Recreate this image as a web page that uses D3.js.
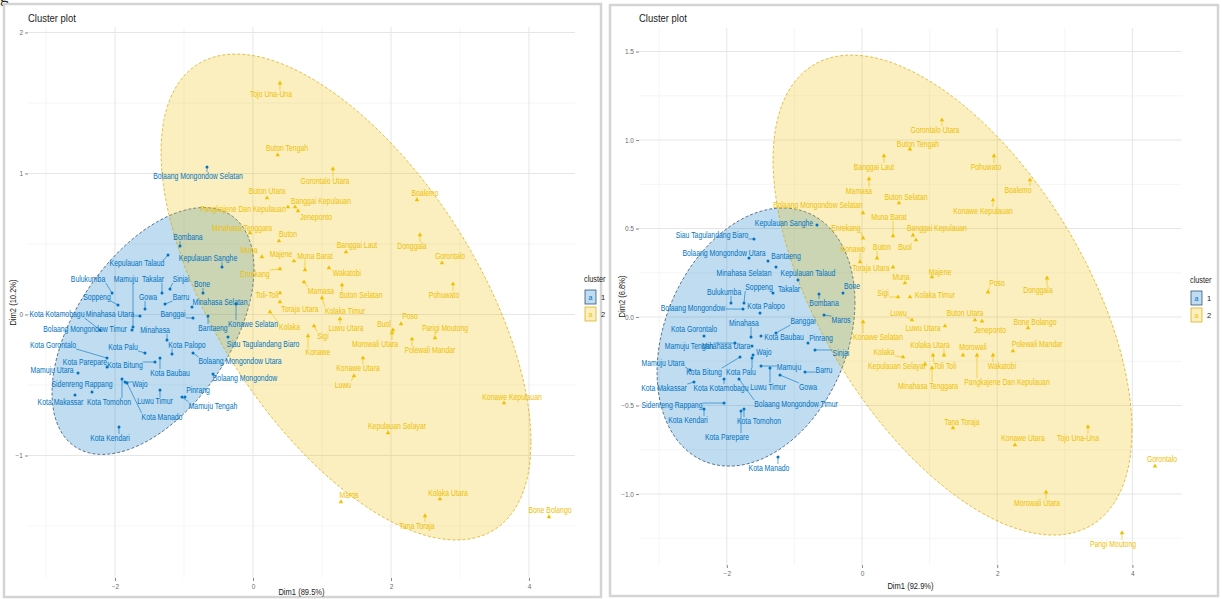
<!DOCTYPE html>
<html>
<head>
<meta charset="utf-8">
<script src="https://cdn.jsdelivr.net/npm/d3@7"></script>
<style>
  body { margin: 0; background: #ffffff; }
  svg { display: block; font-family: "Liberation Sans", Arial, sans-serif; }
</style>
</head>
<body>
<svg id="chart" width="1222" height="599"></svg>
<script>
// ---------------- Data: k-means result on two PCA maps ----------------
// [region, Dim1, Dim2]
const leftCluster1 = [
  ["Bolaang Mongondow Selatan", -0.667, 1.046], ["Bombana", -1.058, 0.486], ["Kepulauan Sanghe", -0.449, 0.337],
  ["Kepulauan Talaud", -1.232, 0.422], ["Bulukumba", -2.043, 0.152], ["Mamuju", -1.739, -0.089],
  ["Takalar", -1.319, 0.152], ["Sinjai", -1.203, 0.181], ["Soppeng", -1.957, 0.067], ["Gowa", -1.565, 0.039],
  ["Barru", -1.275, 0.074], ["Bone", -0.725, 0.152], ["Minahasa Selatan", -0.884, 0.053],
  ["Kota Kotamobagu", -2.217, -0.110], ["Minahasa Utara", -1.638, -0.011], ["Banggai", -0.870, -0.025],
  ["Bolaang Mongondow Timur", -1.754, -0.110], ["Minahasa", -1.246, -0.181], ["Bantaeng", -0.652, -0.011],
  ["Konawe Selatan", -0.246, 0.074], ["Siau Tagulandang Biaro", -0.362, -0.160], ["Kota Gorontalo", -2.116, -0.309],
  ["Kota Palu", -1.565, -0.273], ["Kota Palopo", -1.174, -0.280], ["Bolaang Mongondow Utara", -0.870, -0.273],
  ["Kota Parepare", -2.116, -0.372], ["Mamuju Utara", -2.536, -0.415], ["Kota Bitung", -1.420, -0.337],
  ["Kota Baubau", -1.348, -0.309], ["Bolaang Mongondow", -0.580, -0.422], ["Sidenreng Rappang", -2.333, -0.550],
  ["Wajo", -1.855, -0.479], ["Pinrang", -0.986, -0.585], ["Kota Makassar", -2.580, -0.571],
  ["Kota Tomohon", -1.899, -0.457], ["Luwu Timur", -1.348, -0.535], ["Mamuju Tengah", -1.029, -0.585],
  ["Kota Manado", -1.826, -0.486], ["Kota Kendari", -1.942, -0.798]
];
const leftCluster2 = [
  ["Tojo Una-Una", 0.391, 1.640], ["Buton Tengah", 0.358, 1.131], ["Gorontalo Utara", 1.159, 1.032],
  ["Buton Utara", 0.203, 0.826], ["Banggai Kepulauan", 0.609, 0.762], ["Jeneponto", 0.652, 0.734],
  ["Pangkajene Dan Kepulauan", 0.507, 0.762], ["Boalemo", 2.377, 0.812], ["Minahasa Tenggara", -0.043, 0.578],
  ["Buton", 0.377, 0.521], ["Donggala", 2.420, 0.564], ["Banggai Laut", 1.348, 0.443], ["Gorontalo", 2.739, 0.365],
  ["Muna", 0.130, 0.408], ["Majene", 0.594, 0.379], ["Muna Barat", 0.754, 0.316], ["Enrekang", 0.391, 0.323],
  ["Wakatobi", 1.101, 0.330], ["Mamasa", 0.739, 0.230], ["Kolaka Timur", 1.000, 0.117],
  ["Buton Selatan", 1.290, 0.209], ["Toli-Toli", 0.391, 0.152], ["Toraja Utara", 0.391, 0.089],
  ["Pohuwato", 2.899, 0.216], ["Kolaka", 0.246, 0.018], ["Luwu Utara", 1.261, -0.032], ["Poso", 2.145, -0.067],
  ["Buol", 2.029, -0.110], ["Parigi Moutong", 2.638, -0.167], ["Sigi", 0.884, -0.082], ["Konawe", 0.797, -0.152],
  ["Morowali Utara", 2.014, -0.131], ["Polewali Mandar", 2.304, -0.174], ["Konawe Utara", 1.594, -0.309],
  ["Luwu", 1.464, -0.436], ["Kepulauan Selayar", 1.957, -0.840], ["Konawe Kepulauan", 3.638, -0.628],
  ["Maros", 1.275, -1.330], ["Kolaka Utara", 2.710, -1.309], ["Tana Toraja", 2.493, -1.429],
  ["Bone Bolango", 4.290, -1.436]
];
const rightCluster1 = [
  ["Kepulauan Sanghe", -0.666, 0.520], ["Siau Tagulandang Biaro", -1.598, 0.441],
  ["Bolaang Mongondow Utara", -1.672, 0.333], ["Bantaeng", -1.391, 0.316], ["Minahasa Selatan", -1.272, 0.282],
  ["Kepulauan Talaud", -0.947, 0.209], ["Bulukumba", -1.938, 0.079], ["Soppeng", -1.746, 0.079],
  ["Takalar", -1.317, 0.136], ["Bone", -0.281, 0.136], ["Bombana", -0.636, 0.130],
  ["Bolaang Mongondow", -1.760, 0.045], ["Kota Palopo", -1.509, 0.023], ["Maros", -0.562, 0.011],
  ["Banggai", -1.272, -0.090], ["Minahasa", -1.642, -0.113], ["Kota Gorontalo", -2.337, -0.107],
  ["Kota Baubau", -1.494, -0.107], ["Pinrang", -0.799, -0.147], ["Mamuju Tengah", -1.879, -0.147],
  ["Minahasa Utara", -1.627, -0.164], ["Wajo", -1.612, -0.215], ["Sinjai", -0.695, -0.186],
  ["Mamuju Utara", -2.544, -0.299], ["Kota Bitung", -1.805, -0.226], ["Kota Palu", -1.627, -0.232],
  ["Mamuju", -1.494, -0.277], ["Barru", -0.843, -0.311], ["Kota Makassar", -2.485, -0.367],
  ["Kota Kotamobagu", -2.041, -0.350], ["Luwu Timur", -1.361, -0.288], ["Gowa", -1.213, -0.328],
  ["Bolaang Mongondow Timur", -1.820, -0.350], ["Sidenreng Rappang", -2.041, -0.486],
  ["Kota Kendari", -2.337, -0.520], ["Kota Tomohon", -1.746, -0.520], ["Kota Parepare", -1.790, -0.531],
  ["Kota Manado", -1.243, -0.791]
];
const rightCluster2 = [
  ["Gorontalo Utara", 1.183, 1.113], ["Buton Tengah", 0.710, 0.949], ["Banggai Laut", 0.325, 0.910],
  ["Pohuwato", 1.953, 0.910], ["Mamasa", 0.104, 0.780], ["Buton Selatan", 0.547, 0.644], ["Boalemo", 2.485, 0.774],
  ["Konawe Kepulauan", 1.938, 0.661], ["Bolaang Mongondow Selatan", 0.015, 0.588], ["Muna Barat", 0.459, 0.458],
  ["Banggai Kepulauan", 0.754, 0.463], ["Enrekang", 0.015, 0.446], ["Buol", 0.799, 0.435], ["Buton", 0.222, 0.333],
  ["Konawe", -0.030, 0.311], ["Toraja Utara", 0.459, 0.282], ["Muna", 0.636, 0.192], ["Majene", 1.036, 0.226],
  ["Poso", 1.864, 0.141], ["Donggala", 2.737, 0.220], ["Kolaka Timur", 0.710, 0.113], ["Sigi", 0.533, 0.113],
  ["Luwu", 0.740, -0.017], ["Buton Utara", 1.672, -0.017], ["Luwu Utara", 1.228, -0.051],
  ["Jeneponto", 1.775, -0.023], ["Bone Bolango", 2.456, -0.062], ["Polewali Mandar", 2.234, -0.192],
  ["Kolaka Utara", 1.213, -0.215], ["Morowali", 1.494, -0.215], ["Wakatobi", 1.938, -0.215],
  ["Pangkajene Dan Kepulauan", 1.701, -0.215], ["Kepulauan Selayar", 0.932, -0.266], ["Toli Toli", 1.050, -0.215],
  ["Minahasa Tenggara", 1.036, -0.288], ["Kolaka", 0.607, -0.226], ["Konawe Selatan", 0.015, -0.028],
  ["Tana Toraja", 1.346, -0.627], ["Konawe Utara", 2.263, -0.723], ["Tojo Una-Una", 3.343, -0.621],
  ["Gorontalo", 4.334, -0.842], ["Morowali Utara", 2.722, -0.989], ["Parigi Moutong", 3.846, -1.220]
];

// Repelled label anchors (Dim1, Dim2) for each region
const leftLabelAt = {
  "Bolaang Mongondow Selatan": [-0.797, 0.982], "Bombana": [-0.942, 0.550], "Kepulauan Sanghe": [-0.652, 0.401],
  "Kepulauan Talaud": [-1.681, 0.365], "Bulukumba": [-2.391, 0.252], "Mamuju": [-1.841, 0.252],
  "Takalar": [-1.449, 0.252], "Sinjai": [-1.043, 0.252], "Soppeng": [-2.261, 0.124], "Gowa": [-1.522, 0.124],
  "Barru": [-1.043, 0.124], "Bone": [-0.739, 0.216], "Minahasa Selatan": [-0.478, 0.089],
  "Kota Kotamobagu": [-2.841, 0.004], "Minahasa Utara": [-2.072, 0.004], "Banggai": [-1.159, 0.004],
  "Bolaang Mongondow Timur": [-2.435, -0.103], "Minahasa": [-1.420, -0.110], "Bantaeng": [-0.580, -0.096],
  "Konawe Selatan": [0.000, -0.067], "Siau Tagulandang Biaro": [0.145, -0.209], "Kota Gorontalo": [-2.899, -0.216],
  "Kota Palu": [-1.884, -0.230], "Kota Palopo": [-0.957, -0.216], "Bolaang Mongondow Utara": [-0.188, -0.330],
  "Kota Parepare": [-2.435, -0.337], "Mamuju Utara": [-2.913, -0.394], "Kota Bitung": [-1.855, -0.358],
  "Kota Baubau": [-1.203, -0.415], "Bolaang Mongondow": [-0.116, -0.450], "Sidenreng Rappang": [-2.478, -0.493],
  "Wajo": [-1.638, -0.493], "Pinrang": [-0.797, -0.535], "Kota Makassar": [-2.790, -0.621],
  "Kota Tomohon": [-2.087, -0.621], "Luwu Timur": [-1.420, -0.613], "Mamuju Tengah": [-0.580, -0.649],
  "Kota Manado": [-1.319, -0.727], "Kota Kendari": [-2.072, -0.876],
  "Tojo Una-Una": [0.261, 1.564], "Buton Tengah": [0.493, 1.181], "Gorontalo Utara": [1.043, 0.947],
  "Buton Utara": [0.203, 0.876], "Banggai Kepulauan": [0.986, 0.805], "Jeneponto": [0.913, 0.691],
  "Pangkajene Dan Kepulauan": [-0.145, 0.748], "Boalemo": [2.493, 0.862], "Minahasa Tenggara": [-0.159, 0.613],
  "Buton": [0.507, 0.571], "Donggala": [2.304, 0.486], "Banggai Laut": [1.507, 0.493], "Gorontalo": [2.855, 0.415],
  "Muna": [-0.058, 0.457], "Majene": [0.406, 0.429], "Muna Barat": [0.899, 0.415], "Enrekang": [0.029, 0.287],
  "Wakatobi": [1.362, 0.294], "Mamasa": [0.986, 0.167], "Kolaka Timur": [1.333, 0.025],
  "Buton Selatan": [1.565, 0.138], "Toli-Toli": [0.203, 0.138], "Toraja Utara": [0.681, 0.039],
  "Pohuwato": [2.768, 0.138], "Kolaka": [0.530, -0.089], "Luwu Utara": [1.348, -0.096], "Poso": [2.275, -0.011],
  "Buol": [1.899, -0.067], "Parigi Moutong": [2.783, -0.096], "Sigi": [1.014, -0.152], "Konawe": [0.942, -0.266],
  "Morowali Utara": [1.768, -0.209], "Polewali Mandar": [2.565, -0.252], "Konawe Utara": [1.522, -0.379],
  "Luwu": [1.304, -0.500], "Kepulauan Selayar": [2.087, -0.791], "Konawe Kepulauan": [3.754, -0.585],
  "Maros": [1.391, -1.280], "Kolaka Utara": [2.826, -1.266], "Tana Toraja": [2.377, -1.500],
  "Bone Bolango": [4.304, -1.387]
};
const rightLabelAt = {
  "Kepulauan Sanghe": [-1.154, 0.531], "Siau Tagulandang Biaro": [-2.219, 0.463],
  "Bolaang Mongondow Utara": [-2.041, 0.362], "Bantaeng": [-1.124, 0.345], "Minahasa Selatan": [-1.746, 0.249],
  "Kepulauan Talaud": [-0.799, 0.249], "Bulukumba": [-2.041, 0.141], "Soppeng": [-1.524, 0.169],
  "Takalar": [-1.080, 0.158], "Bone": [-0.148, 0.175], "Bombana": [-0.562, 0.079],
  "Bolaang Mongondow": [-2.500, 0.051], "Kota Palopo": [-1.420, 0.062], "Maros": [-0.311, -0.017],
  "Banggai": [-0.873, -0.023], "Minahasa": [-1.746, -0.034], "Kota Gorontalo": [-2.485, -0.068],
  "Kota Baubau": [-1.154, -0.113], "Pinrang": [-0.607, -0.119], "Mamuju Tengah": [-2.559, -0.164],
  "Minahasa Utara": [-2.012, -0.164], "Wajo": [-1.450, -0.198], "Sinjai": [-0.311, -0.203],
  "Mamuju Utara": [-2.944, -0.260], "Kota Bitung": [-2.337, -0.311], "Kota Palu": [-1.790, -0.311],
  "Mamuju": [-1.080, -0.282], "Barru": [-0.562, -0.299], "Kota Makassar": [-2.929, -0.401],
  "Kota Kotamobagu": [-2.086, -0.401], "Luwu Timur": [-1.391, -0.395], "Gowa": [-0.799, -0.395],
  "Bolaang Mongondow Timur": [-0.976, -0.492], "Sidenreng Rappang": [-2.811, -0.497],
  "Kota Kendari": [-2.574, -0.582], "Kota Tomohon": [-1.524, -0.588], "Kota Parepare": [-1.997, -0.678],
  "Kota Manado": [-1.376, -0.853],
  "Gorontalo Utara": [1.080, 1.056], "Buton Tengah": [0.828, 0.977], "Banggai Laut": [0.178, 0.847],
  "Pohuwato": [1.834, 0.847], "Mamasa": [-0.044, 0.712], "Buton Selatan": [0.651, 0.678], "Boalemo": [2.308, 0.718],
  "Konawe Kepulauan": [1.790, 0.599], "Bolaang Mongondow Selatan": [-0.651, 0.633], "Muna Barat": [0.399, 0.565],
  "Banggai Kepulauan": [1.109, 0.503], "Enrekang": [-0.237, 0.503], "Buol": [0.636, 0.395], "Buton": [0.296, 0.395],
  "Konawe": [-0.133, 0.384], "Toraja Utara": [0.133, 0.277], "Muna": [0.577, 0.226], "Majene": [1.154, 0.254],
  "Poso": [1.997, 0.192], "Donggala": [2.604, 0.153], "Kolaka Timur": [1.080, 0.124], "Sigi": [0.311, 0.136],
  "Luwu": [0.540, 0.023], "Buton Utara": [1.524, 0.023], "Luwu Utara": [0.902, -0.062], "Jeneponto": [1.893, -0.073],
  "Bone Bolango": [2.559, -0.028], "Polewali Mandar": [2.589, -0.153], "Kolaka Utara": [1.006, -0.158],
  "Morowali": [1.642, -0.169], "Wakatobi": [2.071, -0.277], "Pangkajene Dan Kepulauan": [2.145, -0.367],
  "Kepulauan Selayar": [0.518, -0.277], "Toli Toli": [1.228, -0.277], "Minahasa Tenggara": [0.976, -0.390],
  "Kolaka": [0.325, -0.198], "Konawe Selatan": [0.237, -0.113], "Tana Toraja": [1.479, -0.593],
  "Konawe Utara": [2.382, -0.684], "Tojo Una-Una": [3.195, -0.684], "Gorontalo": [4.438, -0.802],
  "Morowali Utara": [2.589, -1.051], "Parigi Moutong": [3.713, -1.282]
};

// Normal-theory cluster ellipses: centre plus two conjugate semi-axes (Dim1, Dim2)
const leftEllipse1 = { center: [-1.449, -0.117], axisA: [1.464, 0.440], axisB: [0, -0.757] };
const leftEllipse2 = { center: [1.348, 0.124], axisA: [2.681, -1.028], axisB: [0, -1.383] };
const rightEllipse1 = { center: [-1.568, -0.113], axisA: [1.464, 0.198], axisB: [0, -0.702] };
const rightEllipse2 = { center: [1.339, 0.124], axisA: [2.655, -0.763], axisB: [0, -1.121] };

// Axis ticks
const xTicks = [-2, 0, 2, 4];
const xMinorTicks = [-3, -1, 1, 3];
const leftYTicks = [-1, 0, 1, 2];
const leftYMinor = [-1.5, -0.5, 0.5, 1.5];
const rightYTicks = [-1, -0.5, 0, 0.5, 1, 1.5];
const rightYMinor = [-1.25, -0.75, -0.25, 0.25, 0.75, 1.25];
const clusterNames = ["1", "2"];

// ---------------- Styling ----------------
const COLORS = ["#0073C2", "#EFC000"];
const OUTLINES = ["#1b3f63", "#d4a800"];
const FILL_OPACITY = 0.25;
const NARROW = 0.8;   // horizontal squeeze of the condensed label face

const panels = [
  {
    frame: { x: 4, y: 4, w: 597, h: 593 },
    plot: { x0: 28, x1: 575, y0: 27, y1: 578 },
    xDomain: [-3.261, 4.667], yDomain: [-1.869, 2.039],
    yTicks: leftYTicks, yMinor: leftYMinor, yFormat: d3.format("d"),
    xTitle: "Dim1 (89.5%)", yTitle: "Dim2 (10.2%)",
    xTitleY: 595, yTitleX: 13,
    clusters: [leftCluster1, leftCluster2], ellipses: [leftEllipse1, leftEllipse2], labelAt: leftLabelAt,
    legend: { x: 584, y: 282 }
  },
  {
    frame: { x: 610, y: 5, w: 608, h: 591 },
    plot: { x0: 639, x1: 1182, y0: 28, y1: 565 },
    xDomain: [-3.299, 4.734], yDomain: [-1.401, 1.633],
    yTicks: rightYTicks, yMinor: rightYMinor, yFormat: d3.format(".1f"),
    xTitle: "Dim1 (92.9%)", yTitle: "Dim2 (6.8%)",
    xTitleY: 589, yTitleX: 622,
    clusters: [rightCluster1, rightCluster2], ellipses: [rightEllipse1, rightEllipse2], labelAt: rightLabelAt,
    legend: { x: 1190, y: 283 }
  }
];

const svg = d3.select("#chart");

// condensed text: squeezes glyphs horizontally around (x, y); rot rotates before squeezing
function narrowText(parent, x, y, str, opts) {
  const o = Object.assign({ size: 8, fill: "#1a1a1a", anchor: "middle", baseline: "central", squeeze: NARROW, rot: 0 }, opts);
  const wrap = parent.append("g").attr("transform", `translate(${x},${y}) rotate(${o.rot}) scale(${o.squeeze},1)`);
  const t = wrap.append("text").attr("x", 0).attr("y", 0)
    .attr("text-anchor", o.anchor).attr("dominant-baseline", o.baseline)
    .attr("font-size", o.size).attr("fill", o.fill).text(str);
  return { wrap, t, squeeze: o.squeeze };
}

// stray descender of the page heading above the figure
svg.append("text").attr("x", 0).attr("y", 2).attr("font-size", 17)
  .attr("font-family", "Liberation Serif, serif").attr("fill", "#222").text("g");

panels.forEach(p => {
  const g = svg.append("g");
  g.append("rect").attr("x", p.frame.x).attr("y", p.frame.y).attr("width", p.frame.w).attr("height", p.frame.h)
    .attr("fill", "#fff").attr("stroke", "#d4d4d4").attr("stroke-width", 2.5);

  const x = d3.scaleLinear().domain(p.xDomain).range([p.plot.x0, p.plot.x1]);
  const y = d3.scaleLinear().domain(p.yDomain).range([p.plot.y1, p.plot.y0]);

  // grid
  const grid = g.append("g");
  grid.selectAll(".vminor").data(xMinorTicks).join("line")
    .attr("x1", d => x(d)).attr("x2", d => x(d)).attr("y1", p.plot.y0).attr("y2", p.plot.y1)
    .attr("stroke", "#efefef").attr("stroke-width", 0.6);
  grid.selectAll(".hminor").data(p.yMinor).join("line")
    .attr("y1", d => y(d)).attr("y2", d => y(d)).attr("x1", p.plot.x0).attr("x2", p.plot.x1)
    .attr("stroke", "#efefef").attr("stroke-width", 0.6);
  grid.selectAll(".vmajor").data(xTicks).join("line")
    .attr("x1", d => x(d)).attr("x2", d => x(d)).attr("y1", p.plot.y0).attr("y2", p.plot.y1)
    .attr("stroke", "#e6e6e6").attr("stroke-width", 1);
  grid.selectAll(".hmajor").data(p.yTicks).join("line")
    .attr("y1", d => y(d)).attr("y2", d => y(d)).attr("x1", p.plot.x0).attr("x2", p.plot.x1)
    .attr("stroke", "#e6e6e6").attr("stroke-width", 1);

  // axes
  const xAxis = g.append("g").attr("transform", `translate(0,${p.plot.y1})`)
    .call(d3.axisBottom(x).tickValues(xTicks).tickSize(3).tickPadding(3).tickFormat(d3.format("d")));
  const yAxis = g.append("g").attr("transform", `translate(${p.plot.x0},0)`)
    .call(d3.axisLeft(y).tickValues(p.yTicks).tickSize(3).tickPadding(2).tickFormat(p.yFormat));
  [xAxis, yAxis].forEach(a => {
    a.select(".domain").remove();
    a.selectAll("line").attr("stroke", "#555").attr("stroke-width", 0.7);
    a.selectAll("text").attr("fill", "#6b6b6b").attr("font-size", 6.5);
  });

  // ellipses
  const ring = d3.range(0, 181).map(i => i / 180 * 2 * Math.PI);
  const line = d3.line().curve(d3.curveLinearClosed);
  p.ellipses.forEach((e, k) => {
    const pts = ring.map(t => [
      x(e.center[0] + e.axisA[0] * Math.cos(t) + e.axisB[0] * Math.sin(t)),
      y(e.center[1] + e.axisA[1] * Math.cos(t) + e.axisB[1] * Math.sin(t))
    ]);
    g.append("path").attr("d", line(pts))
      .attr("fill", COLORS[k]).attr("fill-opacity", FILL_OPACITY)
      .attr("stroke", OUTLINES[k]).attr("stroke-width", 0.7)
      .attr("stroke-dasharray", "3,2");
  });

  // points and repelled labels
  p.clusters.forEach((rows, k) => {
    const col = COLORS[k];
    const layer = g.append("g");
    const segLayer = layer.append("g");
    rows.forEach(([name, d1, d2]) => {
      const px = x(d1), py = y(d2);
      if (k === 0) {
        layer.append("circle").attr("cx", px).attr("cy", py).attr("r", 1.5).attr("fill", col);
      } else {
        layer.append("path").attr("d", d3.symbol(d3.symbolTriangle, 9)()).attr("transform", `translate(${px},${py})`)
          .attr("fill", col);
      }
      const la = p.labelAt[name] || [d1, d2];
      const lx = x(la[0]), ly = y(la[1]);
      const lab = narrowText(layer, lx, ly, name, { size: 8.6, fill: col });
      const b = lab.t.node().getBBox();
      const bx0 = lx + b.x * lab.squeeze, bx1 = lx + (b.x + b.width) * lab.squeeze;
      const by0 = ly + b.y + 1, by1 = ly + b.y + b.height - 1;
      const cx = Math.max(bx0, Math.min(px, bx1));
      const cy = Math.max(by0, Math.min(py, by1));
      if (Math.hypot(cx - px, cy - py) > 5) {
        segLayer.append("line").attr("x1", px).attr("y1", py).attr("x2", cx).attr("y2", cy)
          .attr("stroke", col).attr("stroke-width", 0.6);
      }
    });
  });

  // titles
  narrowText(g, p.plot.x0, 18, "Cluster plot", { size: 11, anchor: "start", squeeze: 0.86 });
  narrowText(g, (p.plot.x0 + p.plot.x1) / 2, p.xTitleY - 3, p.xTitle, { size: 8.8, squeeze: 0.86 });
  narrowText(g, p.yTitleX, (p.plot.y0 + p.plot.y1) / 2, p.yTitle, { size: 8.8, squeeze: 0.86, rot: -90 });

  // legend
  const lg = g.append("g").attr("transform", `translate(${p.legend.x},${p.legend.y})`);
  narrowText(lg, 0, -3, "cluster", { size: 8.5, anchor: "start", squeeze: 0.86 });
  clusterNames.forEach((c, i) => {
    const ky = 8 + i * 17;
    lg.append("rect").attr("x", 1).attr("y", ky).attr("width", 11).attr("height", 14)
      .attr("fill", COLORS[i]).attr("fill-opacity", FILL_OPACITY)
      .attr("stroke", OUTLINES[i]).attr("stroke-width", 0.7);
    lg.append("text").attr("x", 6.5).attr("y", ky + 7).attr("text-anchor", "middle").attr("dominant-baseline", "central")
      .attr("font-size", 7).attr("fill", COLORS[i]).text("a");
    lg.append("text").attr("x", 17).attr("y", ky + 7).attr("dominant-baseline", "central")
      .attr("font-size", 7.5).attr("fill", "#1a1a1a").text(c);
  });
});
</script>
</body>
</html>
